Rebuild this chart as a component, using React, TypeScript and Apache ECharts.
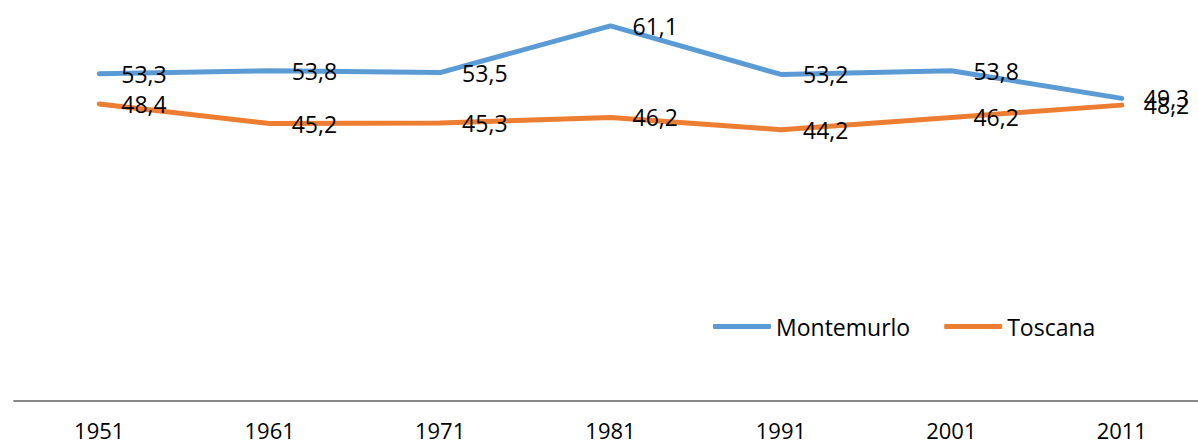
import React, { useEffect, useRef } from "react";
import * as echarts from "echarts";

const years = ["1951", "1961", "1971", "1981", "1991", "2001", "2011"];
const montemurlo = [53.3, 53.8, 53.5, 61.1, 53.2, 53.8, 49.3];
const toscana = [48.4, 45.2, 45.3, 46.2, 44.2, 46.2, 48.2];

const FONT = "'Open Sans', sans-serif";

export default function App() {
  const ref = useRef<HTMLDivElement>(null);
  useEffect(() => {
    if (!ref.current) return;
    const chart = echarts.init(ref.current, undefined, { renderer: "svg" });
    const label = {
      show: true,
      position: "right" as const,
      distance: 22,
      color: "#000",
      fontSize: 23,
      fontFamily: FONT,
      formatter: (p: any) => String(p.value.toFixed(1)).replace(".", ","),
    };
    chart.setOption({
      animation: false,
      textStyle: { fontFamily: FONT },
      grid: { left: 14, right: 0, top: 2, bottom: 45 },
      legend: {
        left: 708,
        top: 310,
        icon: "roundRect",
        itemWidth: 58,
        itemHeight: 5,
        itemGap: 34,
        textStyle: { fontSize: 23, color: "#000", fontFamily: FONT },
        data: ["Montemurlo", "Toscana"],
      },
      xAxis: {
        type: "category",
        data: years,
        boundaryGap: true,
        axisLine: { lineStyle: { color: "#898989", width: 2 } },
        axisTick: { show: false },
        axisLabel: { fontSize: 22, color: "#000", margin: 19, lineHeight: 20, fontFamily: FONT },
      },
      yAxis: {
        type: "value",
        min: 0,
        max: 65,
        show: false,
        splitLine: { show: false },
      },
      series: [
        {
          name: "Montemurlo",
          type: "line",
          data: montemurlo,
          symbol: "circle",
          symbolSize: 0.1,
          lineStyle: { color: "#5B9BD5", width: 5, cap: "round", join: "round" },
          itemStyle: { color: "#5B9BD5" },
          label,
        },
        {
          name: "Toscana",
          type: "line",
          data: toscana,
          symbol: "circle",
          symbolSize: 0.1,
          lineStyle: { color: "#ED7D31", width: 5, cap: "round", join: "round" },
          itemStyle: { color: "#ED7D31" },
          label,
        },
      ],
    });
    return () => chart.dispose();
  }, []);
  return (
    <div
      style={{ position: "fixed", left: 0, top: 0, width: 1198, height: 446, overflow: "hidden", background: "#fff" }}
    >
      <div ref={ref} style={{ width: 1207, height: 446 }} />
    </div>
  );
}
